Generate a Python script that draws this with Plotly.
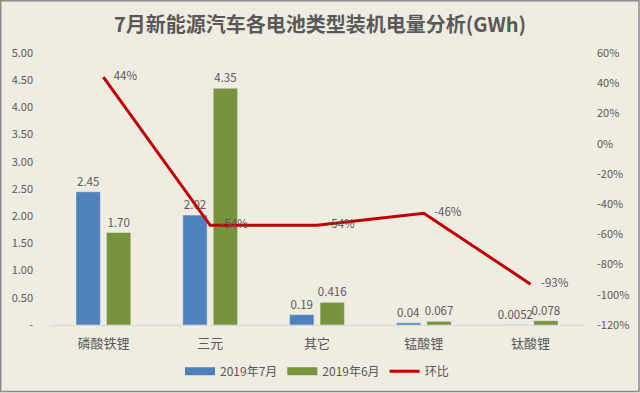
import plotly.graph_objects as go

categories = ["磷酸铁锂", "三元", "其它", "锰酸锂", "钛酸锂"]
jul_2019 = [2.45, 2.02, 0.19, 0.04, 0.0052]
jun_2019 = [1.70, 4.35, 0.416, 0.067, 0.078]
mom = [0.44, -0.54, -0.54, -0.46, -0.93]
jul_labels = ["2.45", "2.02", "0.19", "0.04", "0.0052"]
jun_labels = ["1.70", "4.35", "0.416", "0.067", "0.078"]
mom_labels = ["44%", "-54%", "-54%", "-46%", "-93%"]
left_ticks = [0, 0.5, 1, 1.5, 2, 2.5, 3, 3.5, 4, 4.5, 5]
left_ticktext = ["-", "0.50", "1.00", "1.50", "2.00", "2.50", "3.00", "3.50", "4.00", "4.50", "5.00"]
right_ticks = [-1.2, -1.0, -0.8, -0.6, -0.4, -0.2, 0, 0.2, 0.4, 0.6]
right_ticktext = ["-120%", "-100%", "-80%", "-60%", "-40%", "-20%", "0%", "20%", "40%", "60%"]

FONT = "Noto Sans CJK SC"
GRAY = "#595959"
BG = "#EFECE1"
BLUE = "#4F81BD"
GREEN = "#77933C"
RED = "#C00000"

W, H = 640, 393
ML, MR, MT, MB = 50, 56, 53, 68
PW, PH = W - ML - MR, H - MT - MB

pad = "\u00a0\u00a0\u00a0\u00a0"

fig = go.Figure()
fig.add_trace(go.Bar(
    x=categories, y=jul_2019, name="2019年7月", showlegend=False,
    marker=dict(color=BLUE),
    text=jul_labels, textposition="outside", cliponaxis=False, constraintext="none",
    textfont=dict(family=FONT, size=11.5, color=GRAY),
))
fig.add_trace(go.Bar(
    x=categories, y=jun_2019, name="2019年6月", showlegend=False,
    marker=dict(color=GREEN),
    text=jun_labels, textposition="outside", cliponaxis=False, constraintext="none",
    textfont=dict(family=FONT, size=11.5, color=GRAY),
))
fig.add_trace(go.Scatter(
    x=categories, y=mom, name="环比", yaxis="y2", showlegend=False,
    mode="lines+text", line=dict(color=RED, width=3),
    text=[pad + t for t in mom_labels], textposition="middle right", cliponaxis=False,
    textfont=dict(family=FONT, size=11.5, color=GRAY),
))
# legend entries (wide swatches like the reference)
for nm, col, wd in [("2019年7月", BLUE, 8), ("2019年6月", GREEN, 8), ("环比", RED, 3)]:
    fig.add_trace(go.Scatter(x=[None], y=[None], name=nm, mode="lines",
                             line=dict(color=col, width=wd), showlegend=True))


def px_x(p):
    return (p - ML) / PW


def px_y(p):
    return (H - MB - p) / PH


fig.update_layout(
    width=W, height=H,
    margin=dict(l=ML, r=MR, t=MT, b=MB, autoexpand=False),
    paper_bgcolor=BG, plot_bgcolor=BG,
    barmode="group", bargap=0.43, bargroupgap=0.2,
    font=dict(family=FONT, size=11, color=GRAY),
    title=dict(text="<b>7月新能源汽车各电池类型装机电量分析(GWh)</b>",
               x=0.5, xanchor="center", y=1 - 25 / H, yanchor="middle",
               font=dict(family=FONT, size=20, color=GRAY)),
    xaxis=dict(showline=True, linecolor="#D9D9D9", linewidth=1, automargin=False,
               showgrid=False, ticks="", ticklabelstandoff=6,
               tickfont=dict(family=FONT, size=13, color=GRAY)),
    yaxis=dict(range=[0, 5], tickvals=left_ticks, ticktext=left_ticktext, automargin=False,
               showgrid=False, zeroline=False, ticks="", ticklabelstandoff=16,
               tickfont=dict(family=FONT, size=11, color=GRAY)),
    yaxis2=dict(range=[-1.2, 0.6], tickvals=right_ticks, ticktext=right_ticktext,
                overlaying="y", side="right", showgrid=False, zeroline=False,
                automargin=False, ticks="", ticklabelstandoff=12,
                tickfont=dict(family=FONT, size=11, color=GRAY)),
    legend=dict(orientation="h", x=0.5, xanchor="center", y=-0.17, yanchor="middle",
                itemwidth=30, tracegroupgap=0,
                font=dict(family=FONT, size=12, color=GRAY), bgcolor="rgba(0,0,0,0)"),
    showlegend=True,
    shapes=[dict(type="rect", xref="paper", yref="paper",
                 x0=px_x(0.75), x1=px_x(W - 1), y0=px_y(H - 1.5), y1=px_y(0.75),
                 line=dict(color="#8C8C8C", width=1.5), layer="above")],
)

fig.write_html("out.html",
               config={"displayModeBar": False},
               post_script="document.body.style.margin='0';document.body.style.overflow='hidden';")
